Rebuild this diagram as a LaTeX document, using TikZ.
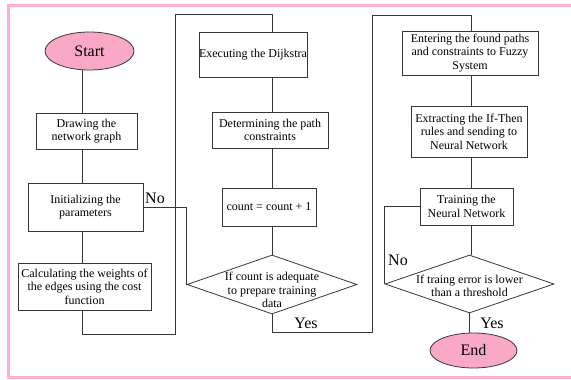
\documentclass[tikz,border=0pt]{standalone}
\usepackage{fontspec}
\setmainfont{Liberation Serif}
\usetikzlibrary{shapes.geometric}
\definecolor{framepink}{RGB}{255,178,205}
\definecolor{termpink}{RGB}{249,168,198}
\definecolor{edgegray}{RGB}{55,55,55}

\begin{document}
\begin{tikzpicture}[x=1pt,y=-1pt,
  every node/.style={font=\fontsize{12}{13.5}\selectfont, inner sep=0pt},
  stepbox/.style={draw=edgegray, line width=0.8pt, rectangle, align=center},
  terminal/.style={draw=edgegray, line width=0.8pt, ellipse, fill=termpink,
                   font=\fontsize{16}{18}\selectfont},
  decision/.style={draw=edgegray, line width=0.8pt, diamond},
  link/.style={draw=edgegray, line width=0.8pt},
  answer/.style={font=\fontsize{16}{18}\selectfont}
]
\useasboundingbox (0,0) rectangle (571,380);

% outer pink frame
\draw[framepink, line width=3pt] (575,5) -- (8.5,5) -- (8.5,377.5) -- (575,377.5);

% column guide coordinates for the vertical connectors
\coordinate (colA) at (82,0);
\coordinate (colB) at (272,0);
\coordinate (colC) at (471,0);
\coordinate (loopAbot) at (175,334);
\coordinate (loopAtop) at (175,14);
\coordinate (loopBbot) at (372,332);
\coordinate (loopBtop) at (372,15);

% first column
\node[terminal, minimum width=89pt, minimum height=38pt] (start) at (89.5,51) {Start};
\node[stepbox, minimum width=101pt, minimum height=36pt] (drawg) at (86.5,131) {Drawing the\\network graph};
\node[stepbox, minimum width=115pt, minimum height=48pt] (init) at (85.5,207) {Initializing the\\parameters};
\node[stepbox, minimum width=133pt, minimum height=47pt] (calc) at (84.5,286.5) {Calculating the weights of\\the edges using the cost\\function};

% second column
\node[stepbox, minimum width=100pt, minimum height=45pt] (exec) at (253,54.5) {Executing the Dijkstra};
\node[stepbox, minimum width=116pt, minimum height=36pt] (det) at (270,130) {Determining the path\\constraints};
\node[stepbox, minimum width=94pt, minimum height=38pt] (count) at (269,207) {count = count + 1};
\node[decision, minimum width=170pt, minimum height=59pt] (dia1) at (272,284.5) {};
\node[align=center] (dia1txt) at (272,290) {If count is adequate\\to prepare training\\data};

% third column
\node[stepbox, minimum width=136pt, minimum height=44pt] (entry) at (470,53) {Entering the found paths\\and constraints to Fuzzy\\System};
\node[stepbox, minimum width=116pt, minimum height=51pt] (extract) at (469,131.5) {Extracting the If-Then\\rules and sending to\\Neural Network};
\node[stepbox, minimum width=93pt, minimum height=37pt] (train) at (466.5,206.5) {Training the\\Neural Network};
\node[decision, minimum width=169pt, minimum height=58pt] (dia2) at (469.5,284) {};
\node[align=center] (dia2txt) at (469.5,286) {If traing error is lower\\than a threshold};
\node[terminal, minimum width=87pt, minimum height=35pt] (stop) at (473.5,350.5) {End};

% connectors, first column
\draw[link] (start.south -| colA) -- (drawg.north -| colA);
\draw[link] (drawg.south -| colA) -- (init.north -| colA);
\draw[link] (init.south -| colA) -- (calc.north -| colA);
\draw[link] (calc.south -| colA) |- (loopAbot) -- (loopAtop) -| (exec.north -| colB);

% connectors, second column
\draw[link] (exec.south -| colB) -- (det.north -| colB);
\draw[link] (det.south -| colB) -- (count.north -| colB);
\draw[link] (count.south -| colB) -- (dia1.north);
\draw[link] (init.east) -| (dia1.west);
\draw[link] (dia1.south) |- (loopBbot) -- (loopBtop) -| (entry.north -| colC);

% connectors, third column
\draw[link] (entry.south -| colC) -- (extract.north -| colC);
\draw[link] (extract.south -| colC) -- (train.north -| colC);
\draw[link] (train.south -| colC) -- (dia2.north -| colC);
\draw[link] (dia2.west) |- (train.west);
\draw[link] (dia2.south) -- (dia2.south |- stop.north);

% branch labels
\node[answer] (noA) at (155,198) {No};
\node[answer] (yesA) at (306,323) {Yes};
\node[answer] (noB) at (398,260) {No};
\node[answer] (yesB) at (492,323) {Yes};
\end{tikzpicture}
\end{document}
